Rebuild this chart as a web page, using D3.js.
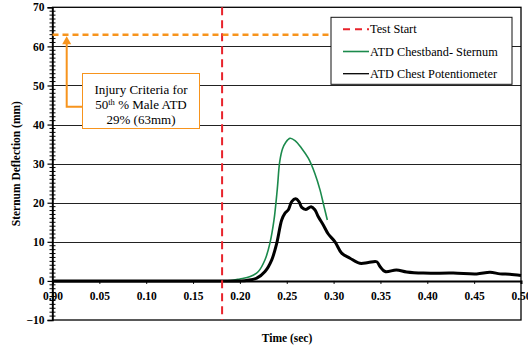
<!DOCTYPE html>
<html>
<head>
<meta charset="utf-8">
<script src="https://cdn.jsdelivr.net/npm/d3@7/dist/d3.min.js"></script>
<style>
  html, body { margin: 0; padding: 0; background: #fff; }
  svg { display: block; }
  text { font-family: "Liberation Serif", "Times New Roman", serif; }
</style>
</head>
<body>
<svg id="chart" width="528" height="351"></svg>
<script>
// ---- data ----
const xTicks = [0, 0.05, 0.10, 0.15, 0.20, 0.25, 0.30, 0.35, 0.40, 0.45, 0.50];
const yTicks = [-10, 0, 10, 20, 30, 40, 50, 60, 70];
const testStartTime = 0.181;
const injuryCriteria = 63;

const greenTime = [0.15, 0.19, 0.200, 0.211, 0.2197, 0.2268, 0.232, 0.2364, 0.2399, 0.2425, 0.2455, 0.249, 0.2535, 0.2588, 0.266, 0.273, 0.280, 0.2855, 0.2898, 0.2933];
const greenValue = [0, 0.1, 0.5, 1.1, 2.4, 5.4, 9.6, 15.6, 23.5, 30.5, 33.8, 35.5, 36.5, 35.9, 33.9, 31.4, 27.5, 23.3, 19.0, 15.6];

const blackTime = [0, 0.18, 0.20, 0.207, 0.218, 0.2268, 0.234, 0.2393, 0.2446, 0.248, 0.2517, 0.2553, 0.2595, 0.263, 0.266, 0.2705, 0.276, 0.280, 0.2837, 0.289, 0.2943, 0.3015, 0.3086, 0.3175, 0.328, 0.337, 0.346, 0.3495, 0.355, 0.367, 0.378, 0.3957, 0.4277, 0.4527, 0.467, 0.4776, 0.488, 0.5];
const blackValue = [0, 0, 0, 0.1, 0.7, 2.4, 5.4, 9.6, 15.6, 17.3, 18.2, 20.3, 21.0, 20.3, 18.8, 18.3, 19.0, 18.2, 16.4, 14.3, 12.0, 10.0, 7.1, 5.8, 4.5, 4.7, 4.9, 3.7, 2.4, 2.8, 2.3, 2.0, 2.0, 1.8, 2.2, 1.8, 1.7, 1.4];

const legendLabels = ["Test Start", "ATD Chestband- Sternum", "ATD Chest Potentiometer"];

(function () {
// ---- layout ----
const svg = d3.select("#chart");
const pL = 52.5, pR = 521, pT = 7.3, pB = 320;
const x = d3.scaleLinear().domain([0, 0.5]).range([pL, pR]);
const y = d3.scaleLinear().domain([-10, 70]).range([pB, pT]);

const RED = "#e8232b", ORANGE = "#f7941d", GREEN = "#1b8a4c";
const SERIF = "Liberation Serif";

// gridlines
svg.append("g").selectAll("line").data(yTicks.filter(v => v > 0 && v < 70)).join("line")
  .attr("x1", pL).attr("x2", pR)
  .attr("y1", d => Math.round(y(d)) + 0.5).attr("y2", d => Math.round(y(d)) + 0.5)
  .attr("stroke", "#222").attr("stroke-width", 1);

// frame
svg.append("rect")
  .attr("x", pL).attr("y", pT).attr("width", pR - pL).attr("height", pB - pT)
  .attr("fill", "none").attr("stroke", "#000").attr("stroke-width", 1.3);

// y axis: major ticks
const yAxis = d3.axisLeft(y).tickValues(yTicks).tickFormat(d3.format("d")).tickSize(5).tickPadding(3);
const gy = svg.append("g").attr("transform", `translate(${pL},0)`).call(yAxis)
  .attr("font-family", SERIF);
gy.select(".domain").attr("stroke", "#000").attr("stroke-width", 1.5);
gy.selectAll(".tick line").attr("stroke", "#000").attr("stroke-width", 1.2);
gy.selectAll(".tick text").attr("font-family", SERIF).attr("font-weight", "bold").attr("font-size", 11.5).attr("fill", "#000");
// minor ticks crossing the axis
const minor = d3.range(-10, 71, 1).filter(v => v % 10 !== 0);
svg.append("g").selectAll("line").data(minor).join("line")
  .attr("x1", pL - 3).attr("x2", pL + 3)
  .attr("y1", d => y(d)).attr("y2", d => y(d))
  .attr("stroke", "#000").attr("stroke-width", 1);

// x axis at y = 0
const xAxis = d3.axisBottom(x).tickValues(xTicks).tickFormat(d3.format(".2f")).tickSize(3).tickPadding(8);
const gx = svg.append("g").attr("transform", `translate(0,${y(0)})`).call(xAxis)
  .attr("font-family", SERIF);
gx.select(".domain").attr("stroke", "#000").attr("stroke-width", 2);
gx.selectAll(".tick line").attr("stroke", "#000").attr("stroke-width", 1);
gx.selectAll(".tick text").attr("font-family", SERIF).attr("font-weight", "bold").attr("font-size", 11.5).attr("fill", "#000");

// axis titles
svg.append("text").attr("x", 287).attr("y", 342).attr("text-anchor", "middle")
  .attr("font-family", SERIF).attr("font-weight", "bold").attr("font-size", 11.5).text("Time (sec)");
svg.append("text").attr("transform", `translate(20,${y(30)}) rotate(-90)`).attr("text-anchor", "middle")
  .attr("font-family", SERIF).attr("font-weight", "bold").attr("font-size", 11.5).text("Sternum Deflection (mm)");

// curves
const line = d3.line().x(d => x(d[0])).y(d => y(d[1])).curve(d3.curveCatmullRom.alpha(0.5));
svg.append("path").datum(greenTime.map((t, i) => [t, greenValue[i]]))
  .attr("d", line).attr("fill", "none").attr("stroke", GREEN).attr("stroke-width", 1.6);
svg.append("path").datum(blackTime.map((t, i) => [t, blackValue[i]]))
  .attr("d", line).attr("fill", "none").attr("stroke", "#000").attr("stroke-width", 3)
  .attr("stroke-linejoin", "round");

// test start line
svg.append("line").attr("x1", x(testStartTime)).attr("x2", x(testStartTime))
  .attr("y1", pT).attr("y2", pB)
  .attr("stroke", RED).attr("stroke-width", 2).attr("stroke-dasharray", "8,5");

// legend
const lgX = 331, lgY = 17.3, lgW = 181, lgH = 67;
// injury criteria dashed line (to legend edge)
svg.append("line").attr("x1", pL).attr("x2", lgX)
  .attr("y1", y(injuryCriteria)).attr("y2", y(injuryCriteria))
  .attr("stroke", ORANGE).attr("stroke-width", 2.5).attr("stroke-dasharray", "6,4");

const lg = svg.append("g");
lg.append("rect").attr("x", lgX).attr("y", lgY).attr("width", lgW).attr("height", lgH)
  .attr("fill", "#fff").attr("stroke", "#111").attr("stroke-width", 1);
const legendStyles = [
  { color: RED, width: 2, dash: "7,5" },
  { color: GREEN, width: 1.6, dash: null },
  { color: "#000", width: 1.3, dash: null }
];
legendLabels.forEach((lab, i) => {
  const ly = lgY + 12 + i * 22.2;
  lg.append("line").attr("x1", lgX + 12).attr("x2", lgX + 38).attr("y1", ly).attr("y2", ly)
    .attr("stroke", legendStyles[i].color).attr("stroke-width", legendStyles[i].width)
    .attr("stroke-dasharray", legendStyles[i].dash);
  lg.append("text").attr("x", lgX + 39).attr("y", ly + 4).attr("font-family", SERIF)
    .attr("font-size", 12.3).attr("fill", "#000").text(lab);
});

// annotation arrow
const ax = 66.7, ay = 106.7;
const arrowTop = y(injuryCriteria) + 1.5;
svg.append("path")
  .attr("d", `M82,${ay} H${ax} V${arrowTop + 7}`)
  .attr("fill", "none").attr("stroke", ORANGE).attr("stroke-width", 2);
svg.append("path")
  .attr("d", `M${ax - 4.5},${arrowTop + 8} L${ax},${arrowTop} L${ax + 4.5},${arrowTop + 8} Z`)
  .attr("fill", ORANGE);

// annotation box
svg.append("rect").attr("x", 82.5).attr("y", 73.5).attr("width", 117).attr("height", 55)
  .attr("fill", "#fff").attr("stroke", ORANGE).attr("stroke-width", 1);
const ann = svg.append("text").attr("text-anchor", "middle").attr("font-family", SERIF)
  .attr("font-size", 13).attr("fill", "#000");
ann.append("tspan").attr("x", 141).attr("y", 94).text("Injury Criteria for");
const t2 = ann.append("tspan").attr("x", 141).attr("y", 109);
t2.append("tspan").text("50");
t2.append("tspan").attr("font-size", 8.5).attr("dy", -4.5).text("th");
t2.append("tspan").attr("dy", 4.5).text(" % Male ATD");
ann.append("tspan").attr("x", 141).attr("y", 124).text("29% (63mm)");
})();
</script>
</body>
</html>
